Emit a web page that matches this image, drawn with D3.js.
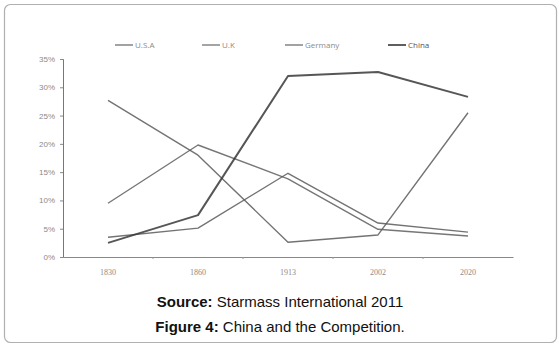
<!DOCTYPE html>
<html><head><meta charset="utf-8">
<script src="https://cdn.jsdelivr.net/npm/d3@7"></script>
<style>
html,body{margin:0;padding:0;background:#fff;}
svg{display:block;}
</style></head>
<body>
<svg id="chart" width="559" height="346"></svg>
<script>
const years = ["1830", "1860", "1913", "2002", "2020"];
const seriesNames = ["U.S.A", "U.K", "Germany", "China"];
const usa = [27.7, 18.0, 2.6, 3.9, 25.5];
const uk = [9.5, 19.8, 13.8, 4.9, 3.7];
const germany = [3.5, 5.1, 14.8, 6.0, 4.4];
const china = [2.5, 7.4, 32.0, 32.7, 28.3];
const yTicks = [0, 5, 10, 15, 20, 25, 30, 35];

const seriesValues = [usa, uk, germany, china];
const styles = [
  {stroke: "#5a5a5a", width: 1.4},
  {stroke: "#5e5e5e", width: 1.4},
  {stroke: "#5a5a5a", width: 1.4},
  {stroke: "#383838", width: 2}
];

const svg = d3.select("#chart");

// frame
svg.append("rect").attr("x", 4.5).attr("y", 4.5).attr("width", 552).attr("height", 338)
  .attr("rx", 6).attr("fill", "#fff").attr("stroke", "#b0b0b0").attr("stroke-width", 1.2);

const x = d3.scaleBand().domain(years).range([63, 513]);
const y = d3.scaleLinear().domain([0, 35]).range([257, 59]);

// axes
const yAxis = d3.axisLeft(y).tickValues(yTicks).tickFormat(d => d + "%").tickSize(3).tickPadding(5);
const gy = svg.append("g").attr("transform", "translate(63,0)").call(yAxis);
gy.select(".domain").attr("stroke", "#777").attr("stroke-width", 1);
gy.selectAll(".tick line").attr("stroke", "#888");
gy.selectAll("text").attr("fill", "#8a8a8a").style("font-family", "Liberation Sans, Arial, sans-serif").style("font-size", "8px");

const xAxis = d3.axisBottom(x).tickSize(0).tickPadding(12);
const gx = svg.append("g").attr("transform", "translate(0,257)").call(xAxis);
gx.select(".domain").attr("stroke", "#888").attr("stroke-width", 1);
gx.selectAll("text").attr("fill", "#8a8a8a").style("font-family", "Liberation Serif, serif").style("font-size", "8px");
// small boundary ticks
gx.selectAll(".bt").data(years.slice(1)).enter().append("line")
  .attr("x1", d => x(d)).attr("x2", d => x(d)).attr("y1", 0).attr("y2", 2).attr("stroke", "#999");

// lines
const line = d3.line().x((d, i) => x(years[i]) + x.bandwidth() / 2).y(d => y(d));
seriesValues.forEach((vals, k) => {
  svg.append("path").datum(vals).attr("d", line).attr("fill", "none")
    .attr("stroke", styles[k].stroke).attr("stroke-width", styles[k].width)
    .attr("stroke-linejoin", "round").attr("opacity", 0.85);
});

// legend
const legendX = [115, 202, 285, 388];
const legendTextColor = ["#8a8a8a", "#8a8a8a", "#8a8a8a", "#555"];
seriesNames.forEach((name, k) => {
  const g = svg.append("g").attr("transform", `translate(${legendX[k]},45)`);
  g.append("line").attr("x1", 0).attr("x2", 18).attr("y1", 0).attr("y2", 0)
    .attr("stroke", styles[k].stroke).attr("stroke-width", styles[k].width).attr("opacity", 0.8);
  g.append("text").attr("x", 20).attr("y", 3).text(name)
    .attr("fill", legendTextColor[k]).style("font-family", "Open Sans, sans-serif").style("font-size", "8px");
});

// captions
const cap1 = svg.append("text").attr("x", 280).attr("y", 307).attr("text-anchor", "middle")
  .style("font-family", "Liberation Sans, Arial, sans-serif").style("font-size", "15px").attr("fill", "#111");
cap1.append("tspan").attr("font-weight", "bold").text("Source:");
cap1.append("tspan").text(" Starmass International 2011");
const cap2 = svg.append("text").attr("x", 280).attr("y", 332).attr("text-anchor", "middle")
  .style("font-family", "Liberation Sans, Arial, sans-serif").style("font-size", "15px").attr("fill", "#111");
cap2.append("tspan").attr("font-weight", "bold").text("Figure 4:");
cap2.append("tspan").text(" China and the Competition.");
</script>
</body></html>
